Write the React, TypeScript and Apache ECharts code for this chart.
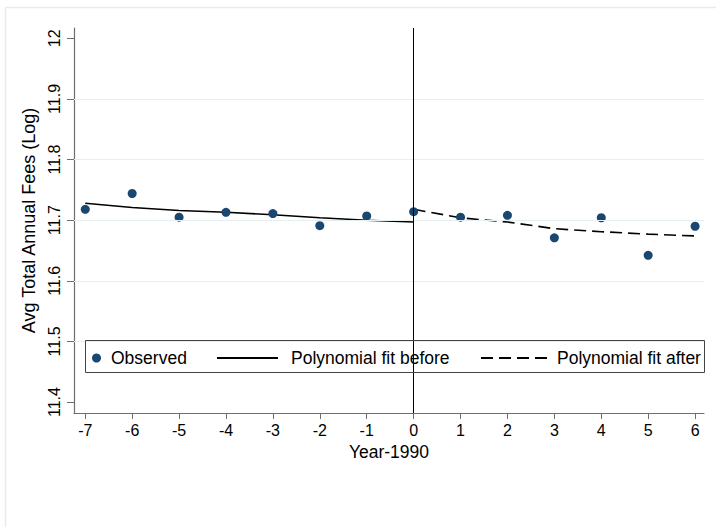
import React, { useEffect, useRef } from "react";
import * as echarts from "echarts";

const years = [-7, -6, -5, -4, -3, -2, -1, 0, 1, 2, 3, 4, 5, 6];
const observed = [11.718, 11.744, 11.705, 11.713, 11.711, 11.691, 11.707, 11.714, 11.705, 11.708, 11.671, 11.704, 11.642, 11.69];
const fitBeforeYears = [-7, -6, -5, -4, -3, -2, -1, 0];
const fitBefore = [11.728, 11.721, 11.716, 11.713, 11.709, 11.704, 11.7, 11.697];
const fitAfterYears = [0, 1, 2, 3, 4, 5, 6];
const fitAfter = [11.718, 11.704, 11.697, 11.686, 11.681, 11.677, 11.674];
const xTicks = [-7, -6, -5, -4, -3, -2, -1, 0, 1, 2, 3, 4, 5, 6];
const yTicks = [11.4, 11.5, 11.6, 11.7, 11.8, 11.9, 12];
const yGrid = [11.5, 11.6, 11.7, 11.8, 11.9];
const cutoff = 0;

const FONT = "'Liberation Sans', Arial, sans-serif";
const NAVY = "#1a476f";
const AXIS = "#6e6e6e";

export default function App() {
  const ref = useRef<HTMLDivElement>(null);
  useEffect(() => {
    if (!ref.current) return;
    const chart = echarts.init(ref.current, undefined, { renderer: "svg" });
    const legendText = { fontFamily: FONT, fontSize: 17.5, color: "#000" };
    const hiddenSymbol = { color: "rgba(0,0,0,0)", borderWidth: 0, opacity: 0 };
    chart.setOption({
      animation: false,
      backgroundColor: "#fff",
      textStyle: { fontFamily: FONT },
      grid: { left: 74, right: 12, top: 28, bottom: 114, containLabel: false },
      xAxis: {
        type: "value",
        min: -7.24,
        max: 6.19,
        name: "Year-1990",
        nameLocation: "middle",
        nameGap: 30,
        nameTextStyle: { fontFamily: FONT, fontSize: 17.5, color: "#000" },
        axisLine: { show: true, onZero: false, lineStyle: { color: AXIS, width: 1.2 } },
        axisTick: { show: true, length: 6, customValues: xTicks, lineStyle: { color: AXIS } },
        axisLabel: { customValues: xTicks, margin: 9, fontSize: 16, color: "#000", fontFamily: FONT },
        splitLine: { show: false },
      },
      yAxis: {
        type: "value",
        min: 11.382,
        max: 12.017,
        name: "Avg Total Annual Fees (Log)",
        nameLocation: "middle",
        nameRotate: 90,
        nameGap: 25,
        nameTextStyle: { fontFamily: FONT, fontSize: 18, color: "#000" },
        axisLine: { show: true, onZero: false, lineStyle: { color: AXIS, width: 1.2 } },
        axisTick: { show: true, length: 7, customValues: yTicks, lineStyle: { color: AXIS } },
        axisLabel: {
          customValues: yTicks,
          rotate: 90,
          margin: 12,
          fontSize: 16,
          color: "#000",
          fontFamily: FONT,
          formatter: (v: number) => String(Math.round(v * 10) / 10),
        },
        splitLine: { show: false },
      },
      legend: [
        {
          data: ["Observed"],
          left: 92,
          top: 349,
          padding: 0,
          itemWidth: 9,
          itemHeight: 9,
          icon: "circle",
          textStyle: { ...legendText, padding: [0, 0, 0, 5] },
        },
        {
          data: ["Polynomial fit before"],
          left: 216,
          top: 349,
          padding: 0,
          itemWidth: 61,
          itemHeight: 14,
          itemStyle: hiddenSymbol,
          textStyle: { ...legendText, padding: [0, 0, 0, 8] },
        },
        {
          data: ["Polynomial fit after"],
          left: 480,
          top: 349,
          padding: 0,
          itemWidth: 70,
          itemHeight: 14,
          itemStyle: hiddenSymbol,
          textStyle: { ...legendText, padding: [0, 0, 0, 1] },
        },
      ],
      graphic: [
        { type: "line", shape: { x1: 5.5, y1: 7.5, x2: 716, y2: 7.5 }, style: { stroke: "#e4ecee", lineWidth: 1.5 }, silent: true },
        { type: "line", shape: { x1: 5.5, y1: 7.5, x2: 5.5, y2: 527 }, style: { stroke: "#e4ecee", lineWidth: 1.5 }, silent: true },
        { type: "rect", shape: { x: 85.5, y: 340.5, width: 619, height: 32 }, style: { fill: "none", stroke: "#444", lineWidth: 1 }, silent: true, z: 10 },
      ],
      series: [
        {
          name: "grid",
          type: "line",
          data: [],
          z: 1,
          silent: true,
          markLine: {
            silent: true,
            symbol: "none",
            label: { show: false },
            lineStyle: { color: "#e6eef1", width: 1.2, type: "solid" },
            data: yGrid.map((v) => ({ yAxis: v })),
          },
        },
        {
          name: "Polynomial fit before",
          type: "line",
          data: fitBeforeYears.map((x, i) => [x, fitBefore[i]]),
          showSymbol: false,
          symbol: "none",
          z: 3,
          lineStyle: { color: "#000", width: 1.6, type: "solid" },
          itemStyle: { color: "#000" },
          markLine: {
            silent: true,
            symbol: "none",
            label: { show: false },
            lineStyle: { color: "#000", width: 1, type: "solid" },
            data: [{ xAxis: cutoff }],
          },
        },
        {
          name: "Polynomial fit after",
          type: "line",
          data: fitAfterYears.map((x, i) => [x, fitAfter[i]]),
          showSymbol: false,
          symbol: "none",
          z: 3,
          lineStyle: { color: "#000", width: 1.6, type: [12, 6] },
          itemStyle: { color: "#000" },
        },
        {
          name: "Observed",
          type: "scatter",
          data: years.map((x, i) => [x, observed[i]]),
          symbol: "circle",
          symbolSize: 9,
          z: 4,
          itemStyle: { color: NAVY, opacity: 1 },
        },
      ],
    });
    return () => chart.dispose();
  }, []);
  return (
    <div
      ref={ref}
      style={{ position: "fixed", left: 0, top: 0, width: 716, height: 527, background: "#fff" }}
    />
  );
}
